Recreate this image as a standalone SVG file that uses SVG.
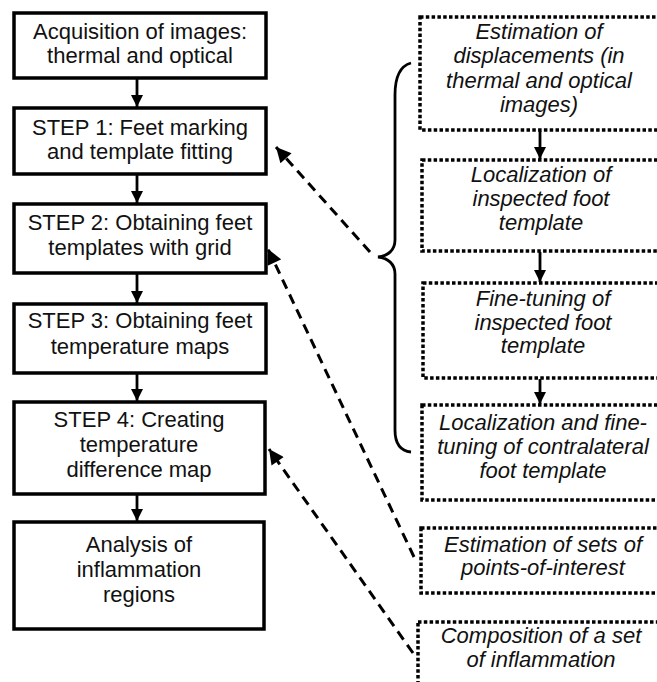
<svg xmlns="http://www.w3.org/2000/svg" width="657" height="682" viewBox="0 0 657 682">
<defs>
<style>
.box{fill:#fff;stroke:#000;stroke-width:3.5}
.dbox{fill:#fff;stroke:#000;stroke-width:3.5;stroke-dasharray:3.5 2.3}
.t{font-family:"Liberation Sans",Arial,sans-serif;font-size:22px;fill:#111;text-anchor:middle}
.ti{font-family:"Liberation Sans",Arial,sans-serif;font-size:22px;font-style:italic;fill:#111;text-anchor:middle}
.solid{stroke:#000;stroke-width:2.8;fill:none}
.dash{stroke:#000;stroke-width:3;fill:none;stroke-dasharray:10 6.5}
</style>
<marker id="ah" viewBox="0 0 10 10" refX="10" refY="5" markerWidth="12" markerHeight="15" markerUnits="userSpaceOnUse" orient="auto">
<path d="M0,0 L10,5 L0,10 z" fill="#000"/>
</marker>
<marker id="ad" viewBox="0 0 10 10" refX="10" refY="5" markerWidth="17" markerHeight="15" markerUnits="userSpaceOnUse" orient="auto">
<path d="M0,0 L10,5 L0,10 z" fill="#000"/>
</marker>
</defs>
<rect width="657" height="682" fill="#fff"/>

<g id="connectors">
<line class="solid" x1="137" y1="79" x2="137" y2="107" marker-end="url(#ah)"/>
<line class="solid" x1="137" y1="175" x2="137" y2="203" marker-end="url(#ah)"/>
<line class="solid" x1="137" y1="274" x2="137" y2="303" marker-end="url(#ah)"/>
<line class="solid" x1="137" y1="374" x2="137" y2="401" marker-end="url(#ah)"/>
<line class="solid" x1="137" y1="495" x2="137" y2="521" marker-end="url(#ah)"/>
<line class="solid" x1="540" y1="131" x2="540" y2="159" marker-end="url(#ah)"/>
<line class="solid" x1="540" y1="252" x2="540" y2="282" marker-end="url(#ah)"/>
<line class="solid" x1="540" y1="379" x2="540" y2="404" marker-end="url(#ah)"/>
<line class="dash" x1="370" y1="252" x2="276" y2="147" marker-end="url(#ad)"/>
<line class="dash" x1="414" y1="557" x2="268" y2="249" marker-end="url(#ad)"/>
<line class="dash" x1="413" y1="653" x2="269" y2="449" marker-end="url(#ad)"/>
<path class="solid" d="M411,63 C400,66 395,76 395,95 L395,240 C395,250 388,256 378,257 C388,258 395,264 395,274 L395,430 C395,445 401,451 411,452"/>
</g>

<g id="n1"><rect class="box" x="14" y="13" width="252" height="65"/>
<text class="t" x="140" y="39">Acquisition of images:</text>
<text class="t" x="140" y="63">thermal and optical</text></g>

<g id="n2"><rect class="box" x="14" y="108" width="252" height="66"/>
<text class="t" x="140" y="135">STEP 1: Feet marking</text>
<text class="t" x="140" y="159">and template fitting</text></g>

<g id="n3"><rect class="box" x="14" y="204" width="252" height="69"/>
<text class="t" x="140" y="230">STEP 2: Obtaining feet</text>
<text class="t" x="140" y="255">templates with grid</text></g>

<g id="n4"><rect class="box" x="14" y="304" width="252" height="69"/>
<text class="t" x="140" y="328">STEP 3: Obtaining feet</text>
<text class="t" x="140" y="354">temperature maps</text></g>

<g id="n5"><rect class="box" x="14" y="402" width="251" height="92"/>
<text class="t" x="139" y="427">STEP 4: Creating</text>
<text class="t" x="139" y="452">temperature</text>
<text class="t" x="139" y="477">difference map</text></g>

<g id="n6"><rect class="box" x="14" y="522" width="250" height="107"/>
<text class="t" x="139" y="552">Analysis of</text>
<text class="t" x="139" y="577">inflammation</text>
<text class="t" x="139" y="602">regions</text></g>

<g id="r1"><rect class="dbox" x="420" y="17" width="245" height="113"/>
<text class="ti" x="539" y="39">Estimation of</text>
<text class="ti" x="539" y="63">displacements (in</text>
<text class="ti" x="539" y="88">thermal and optical</text>
<text class="ti" x="539" y="112">images)</text></g>

<g id="r2"><rect class="dbox" x="422" y="160" width="243" height="91"/>
<text class="ti" x="541" y="182">Localization of</text>
<text class="ti" x="541" y="206">inspected foot</text>
<text class="ti" x="541" y="230">template</text></g>

<g id="r3"><rect class="dbox" x="423" y="283" width="242" height="95"/>
<text class="ti" x="543" y="306">Fine-tuning of</text>
<text class="ti" x="543" y="330">inspected foot</text>
<text class="ti" x="543" y="353">template</text></g>

<g id="r4"><rect class="dbox" x="422" y="405" width="243" height="95"/>
<text class="ti" x="543" y="430">Localization and fine-</text>
<text class="ti" x="543" y="454">tuning of contralateral</text>
<text class="ti" x="543" y="478">foot template</text></g>

<g id="r5"><rect class="dbox" x="421" y="528" width="244" height="65"/>
<text class="ti" x="543" y="552">Estimation of sets of</text>
<text class="ti" x="543" y="575">points-of-interest</text></g>

<g id="r6"><rect class="dbox" x="418" y="622" width="247" height="80"/>
<text class="ti" x="541" y="643">Composition of a set</text>
<text class="ti" x="541" y="667">of inflammation</text></g>
</svg>
